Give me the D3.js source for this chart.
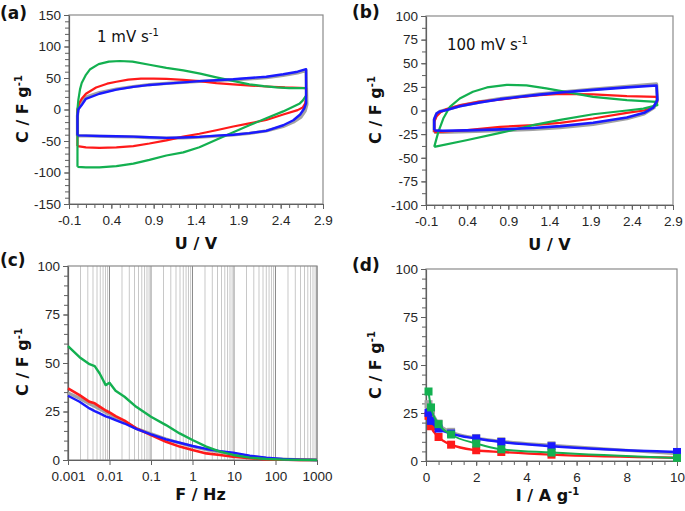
<!DOCTYPE html>
<html><head><meta charset="utf-8">
<script src="https://cdn.jsdelivr.net/npm/d3@7"></script>
<style>
body{margin:0;background:#fff;}
svg{display:block;font-family:"DejaVu Sans",Verdana,sans-serif;}
</style></head>
<body>
<svg id="chart" width="685" height="511"></svg>
<script>
// ---------- DATA ----------
// Panel (a): CV at 1 mV s-1, [U (V), C (F g-1)]
const cvSlowGray = [[0,-42],[0,-10],[0.01,2],[0.05,12],[0.1,20],[0.26,27],[0.46,32.5],[0.66,36.5],[0.85,39.5],[1.05,41.5],[1.25,43],[1.44,44.5],[1.64,46],[1.84,47],[2.03,48.5],[2.23,50.5],[2.43,54],[2.6,58],[2.7,62],[2.71,8],[2.69,-2],[2.64,-12],[2.55,-20],[2.43,-27],[2.23,-34],[2.03,-38],[1.84,-40.5],[1.64,-42.5],[1.44,-44],[1.25,-45],[1.05,-45.5],[0.85,-44.5],[0.66,-43.5],[0.46,-43],[0.26,-42.5],[0.1,-42],[0,-42]];
const cvSlowRed = [[0,-58],[0,0],[0.02,10],[0.05,17],[0.1,25],[0.22,35],[0.35,41],[0.46,44],[0.6,47.5],[0.75,49],[0.9,49],[1.05,48.5],[1.25,47],[1.44,45],[1.64,42],[1.84,40],[2.05,38],[2.23,36.5],[2.45,35],[2.62,34.5],[2.7,34],[2.7,20],[2.69,10],[2.66,3],[2.6,-1],[2.43,-8],[2.23,-16.7],[2.03,-22],[1.84,-27],[1.64,-33],[1.44,-38.5],[1.25,-43],[1.05,-49],[0.85,-54],[0.66,-58],[0.46,-60],[0.26,-61],[0.1,-60],[0,-58]];
const cvSlowBlue = [[0,-41],[0,-10],[0.01,0],[0.05,7],[0.1,17],[0.26,25],[0.46,31.5],[0.66,36],[0.85,39],[1.05,41],[1.25,43],[1.44,45],[1.64,46.5],[1.84,48],[2.03,50],[2.23,52],[2.43,56],[2.6,60],[2.7,64],[2.7,10],[2.68,2],[2.63,-8],[2.55,-17],[2.43,-25],[2.23,-34],[2.03,-37.5],[1.84,-40],[1.64,-41.5],[1.44,-43.5],[1.25,-44.5],[1.05,-45],[0.85,-44],[0.66,-43],[0.46,-42.5],[0.26,-42],[0.1,-41.5],[0,-41]];
const cvSlowGreen = [[0,-91],[0,0],[0.01,15],[0.03,32],[0.05,42],[0.1,55],[0.15,64],[0.25,72],[0.37,76],[0.5,77],[0.65,76],[0.85,71],[1.05,66],[1.25,62],[1.45,57],[1.64,51],[1.85,45],[2.03,40],[2.2,37],[2.35,35],[2.5,34],[2.7,34],[2.7,22],[2.66,14],[2.62,9],[2.43,-3],[2.23,-14],[2.03,-25],[1.84,-36],[1.64,-48],[1.44,-60],[1.25,-68],[1.05,-73],[0.85,-80],[0.66,-86],[0.46,-90],[0.26,-92],[0.1,-92],[0,-91]];

// Panel (b): CV at 100 mV s-1
const cvFastGray = [[0,-23],[0,-10],[0.03,-3.5],[0.07,-1],[0.15,1],[0.31,5],[0.55,9],[0.8,12.5],[1.04,15],[1.28,17.5],[1.53,19.5],[1.93,22.5],[2.34,25.5],[2.7,28],[2.71,12],[2.67,3],[2.55,-3.5],[2.34,-8.5],[1.93,-14.5],[1.53,-18],[1.2,-19.8],[0.8,-21.3],[0.4,-22.3],[0.1,-23],[0,-23]];
const cvFastRed = [[0,-23],[0,-12],[0.03,-6],[0.08,-1.5],[0.15,1.5],[0.31,5.5],[0.55,9.5],[0.8,11.6],[1.04,14],[1.28,16.3],[1.53,17.5],[1.93,17],[2.34,15.2],[2.7,14.5],[2.71,9],[2.66,3.5],[2.55,0],[2.34,-2.5],[1.93,-8.5],[1.53,-13],[1.2,-15.5],[0.8,-17.3],[0.4,-20.8],[0.1,-22.5],[0,-23]];
const cvFastBlue = [[0,-21],[0,-9],[0.03,-3],[0.07,-1],[0.15,0.5],[0.31,4.6],[0.55,8.5],[0.8,12],[1.04,14.5],[1.28,16.8],[1.53,19],[1.93,21.8],[2.34,24.5],[2.7,26.5],[2.71,11],[2.66,3],[2.55,-2.5],[2.34,-7.4],[1.93,-13],[1.53,-16.5],[1.2,-18.5],[0.8,-20],[0.4,-21],[0.1,-21.5],[0,-21]];
const cvFastGreen = [[0,-38.5],[0.05,-22.6],[0.11,-8.5],[0.19,3.9],[0.31,12.7],[0.47,19.8],[0.64,24.4],[0.88,27.2],[1.12,26.5],[1.36,23.4],[1.53,20.8],[1.93,14.5],[2.34,11],[2.7,9.2],[2.71,5.7],[2.54,2],[2.34,0],[1.93,-4],[1.53,-10],[1.2,-15.5],[0.8,-23.7],[0.39,-31.5],[0,-38.5]];

// Panel (c): capacitance vs frequency
const freqHz = [0.001,0.0019,0.0033,0.0044,0.0058,0.0081,0.01,0.014,0.023,0.044,0.1,0.23,0.49,1,2.15,4.6,9.5,24,60,150,400,1000];
const eisGray  = [34.6,31.8,29,27.6,26.3,24.5,23.5,21.8,19.6,16.3,13.5,10.8,8.8,7,5.3,4.2,3.2,1.8,0.9,0.4,0.1,0];
const eisRed   = [36.9,33.4,30,29.2,27.5,25.5,24.5,22.6,20.3,16.3,12.9,9.4,6.9,5.1,3.4,2.6,1.7,0.9,0.3,0.2,0.05,0];
const eisBlue  = [33.1,30,26.6,25.2,24,22.5,21.8,20.5,18.8,16,13.2,10.6,8.9,7.2,5.7,4.6,3.8,2.2,1.2,0.5,0.2,0];
const eisGreen = [58.7,53,49.4,48.4,44.6,38.6,39.8,35.7,32.6,27.4,22.3,18,13.7,10.3,6.9,4.3,2.6,1.2,0.5,0.2,0.05,0];

// Panel (d): rate capability
const currentDensity = [0.1,0.2,0.5,1,2,3,5,10];
const rateGray  = [29.6,26.5,19.5,15.2,12,10.3,8.2,3.8];
const rateRed   = [23.5,18.1,12.5,8.5,5.6,4.7,3.3,1.7];
const rateBlue  = [25.1,20.9,16.9,14.3,11.7,9.9,7.7,4.7];
const rateGreen = [36.2,27.9,19.2,13.8,9.1,6.1,4.4,1.6];

// Ticks
const cvUTicks = [-0.1,0.4,0.9,1.4,1.9,2.4,2.9];
const cvSlowCTicks = [-150,-100,-50,0,50,100,150];
const cvFastCTicks = [-100,-75,-50,-25,0,25,50,75,100];
const capTicks = [0,25,50,75,100];
const freqTicks = [0.001,0.01,0.1,1,10,100,1000];
const freqTickLabels = ["0.001","0.01","0.1","1","10","100","1000"];
const currentTicks = [0,2,4,6,8,10];

// ---------- STYLE ----------
const colors = {gray:"#a3a3a3", red:"#ff1a1a", blue:"#1a1aff", green:"#13b050"};
const svg = d3.select("#chart");
const tickFont = "13.5px";
const textCol = "#262626";

function frame(g, x0, y0, x1, y1){
  g.append("rect").attr("x",x0).attr("y",y0).attr("width",x1-x0).attr("height",y1-y0)
    .attr("fill","none").attr("stroke","#8a8a8a").attr("stroke-width",1.2);
}
function styleAxis(sel){
  sel.selectAll("path.domain").attr("stroke","#606060").attr("stroke-width",1.2);
  sel.selectAll("line").attr("stroke","#606060");
  sel.selectAll("text").attr("fill",textCol).style("font-size",tickFont);
}
function supText(g, x, y, base, sup, opts){
  const t = g.append("text").attr("x",x).attr("y",y).attr("fill",opts.fill||"#000")
    .attr("text-anchor",opts.anchor||"start")
    .style("font-size",opts.size).style("font-weight",opts.weight||"normal");
  if(opts.rotate) t.attr("transform",`rotate(-90,${x},${y})`);
  t.append("tspan").text(base);
  if(sup){
    t.append("tspan").attr("dy",opts.supDy).style("font-size",opts.supSize).text(sup);
  }
  return t;
}
function panelLabel(x,y,txt){
  svg.append("text").attr("x",x).attr("y",y).text(txt)
    .style("font-size","17px").style("font-weight","bold").attr("fill","#111");
}
function yTitle(x, cy){
  supText(svg, x, cy, "C / F g", "-1", {anchor:"middle", size:"16px", weight:"bold", rotate:true, supDy:-6, supSize:"10px", fill:"#111"});
}

// ---------- CV PANEL ----------
function cvPanel(box, yDomain, yTicks, yMinorStep, series, rateLabel, labelPos){
  const x = d3.scaleLinear().domain([-0.1,2.9]).range([box.l, box.r]);
  const y = d3.scaleLinear().domain(yDomain).range([box.b, box.t]);
  const g = svg.append("g");
  frame(g, box.l, box.t, box.r, box.b);
  const xMinor = d3.range(-0.1, 2.9001, 0.1);
  g.append("g").attr("transform",`translate(0,${box.b})`)
    .call(d3.axisBottom(x).tickValues(xMinor).tickSize(4).tickFormat(""))
    .call(s=>{s.select(".domain").remove(); s.selectAll("line").attr("stroke","#606060");});
  const yMinor = d3.range(yDomain[0], yDomain[1]+0.001, yMinorStep);
  g.append("g").attr("transform",`translate(${box.l},0)`)
    .call(d3.axisLeft(y).tickValues(yMinor).tickSize(4).tickFormat(""))
    .call(s=>{s.select(".domain").remove(); s.selectAll("line").attr("stroke","#606060");});
  g.append("g").attr("transform",`translate(0,${box.b})`)
    .call(d3.axisBottom(x).tickValues(cvUTicks).tickSize(5).tickSizeOuter(0).tickPadding(6).tickFormat(d=>d.toFixed(1)))
    .call(styleAxis);
  g.append("g").attr("transform",`translate(${box.l},0)`)
    .call(d3.axisLeft(y).tickValues(yTicks).tickSize(5).tickSizeOuter(0).tickPadding(3).tickFormat(d=>String(d)))
    .call(styleAxis);
  const line = d3.line().x(d=>x(d[0])).y(d=>y(d[1]));
  series.forEach(s=>{
    g.append("path").datum(s.data).attr("d",line).attr("fill","none")
      .attr("stroke",s.color).attr("stroke-width",s.w).attr("stroke-linejoin","round");
  });
  supText(g, labelPos[0], labelPos[1], rateLabel, "-1", {size:"15px", supDy:-6, supSize:"10px", fill:"#111"});
  g.append("text").attr("x",(box.l+box.r)/2).attr("y",box.b+45).attr("text-anchor","middle")
    .style("font-size","16px").style("font-weight","bold").attr("fill","#111").text("U / V");
}

cvPanel({l:69,t:15,r:323,b:204}, [-150,150], cvSlowCTicks, 10,
  [{data:cvSlowGray,color:colors.gray,w:3.2},{data:cvSlowRed,color:colors.red,w:2.2},
   {data:cvSlowGreen,color:colors.green,w:2.2},{data:cvSlowBlue,color:colors.blue,w:2.4}],
  "1 mV s", [97,42]);
cvPanel({l:426,t:16,r:673,b:205}, [-100,100], cvFastCTicks, 12.5,
  [{data:cvFastGray,color:colors.gray,w:3.4},{data:cvFastRed,color:colors.red,w:2.2},
   {data:cvFastGreen,color:colors.green,w:2.2},{data:cvFastBlue,color:colors.blue,w:2.6}],
  "100 mV s", [447,50]);

// ---------- PANEL (c) ----------
(function(){
  const box = {l:68,t:266,r:317,b:460};
  const x = d3.scaleLog().domain([0.001,1000]).range([box.l,box.r]);
  const y = d3.scaleLinear().domain([0,100]).range([box.b,box.t]);
  const g = svg.append("g");
  const minorGrid = [];
  for(let k=-3;k<3;k++){ for(let m=2;m<=9;m++) minorGrid.push(m*Math.pow(10,k)); }
  g.selectAll("line.mg").data(minorGrid).join("line")
    .attr("x1",d=>x(d)).attr("x2",d=>x(d)).attr("y1",box.t).attr("y2",box.b)
    .attr("stroke","#c8c8c8").attr("stroke-width",1);
  g.selectAll("line.Mg").data(freqTicks).join("line")
    .attr("x1",d=>x(d)).attr("x2",d=>x(d)).attr("y1",box.t).attr("y2",box.b)
    .attr("stroke","#8c8c8c").attr("stroke-width",1);
  frame(g, box.l, box.t, box.r, box.b);
  const yMinor = d3.range(0,100.001,5);
  g.append("g").attr("transform",`translate(${box.l},0)`)
    .call(d3.axisLeft(y).tickValues(yMinor).tickSize(4).tickFormat(""))
    .call(s=>{s.select(".domain").remove(); s.selectAll("line").attr("stroke","#606060");});
  g.append("g").attr("transform",`translate(0,${box.b})`)
    .call(d3.axisBottom(x).tickValues(freqTicks).tickSize(5).tickSizeOuter(0).tickPadding(6).tickFormat((d,i)=>freqTickLabels[i]))
    .call(styleAxis);
  g.append("g").attr("transform",`translate(${box.l},0)`)
    .call(d3.axisLeft(y).tickValues(capTicks).tickSize(5).tickSizeOuter(0).tickPadding(3))
    .call(styleAxis);
  const line = d3.line().x(d=>x(d[0])).y(d=>y(d[1]));
  const ser = [{v:eisGray,c:colors.gray,w:3.2},{v:eisRed,c:colors.red,w:2.6},{v:eisBlue,c:colors.blue,w:2.4},{v:eisGreen,c:colors.green,w:2.4}];
  ser.forEach(s=>{
    g.append("path").datum(freqHz.map((f,i)=>[f,s.v[i]])).attr("d",line)
      .attr("fill","none").attr("stroke",s.c).attr("stroke-width",s.w).attr("stroke-linejoin","round");
  });
  g.append("text").attr("x",(box.l+box.r)/2+8).attr("y",box.b+40).attr("text-anchor","middle")
    .style("font-size","16px").style("font-weight","bold").attr("fill","#111").text("F / Hz");
})();

// ---------- PANEL (d) ----------
(function(){
  const box = {l:426,t:269,r:677,b:461};
  const x = d3.scaleLinear().domain([0,10]).range([box.l,box.r]);
  const y = d3.scaleLinear().domain([0,100]).range([box.b,box.t]);
  const g = svg.append("g");
  frame(g, box.l, box.t, box.r, box.b);
  g.append("g").attr("transform",`translate(0,${box.b})`)
    .call(d3.axisBottom(x).tickValues(d3.range(0,10.001,0.5)).tickSize(4).tickFormat(""))
    .call(s=>{s.select(".domain").remove(); s.selectAll("line").attr("stroke","#606060");});
  g.append("g").attr("transform",`translate(${box.l},0)`)
    .call(d3.axisLeft(y).tickValues(d3.range(0,100.001,5)).tickSize(4).tickFormat(""))
    .call(s=>{s.select(".domain").remove(); s.selectAll("line").attr("stroke","#606060");});
  g.append("g").attr("transform",`translate(0,${box.b})`)
    .call(d3.axisBottom(x).tickValues(currentTicks).tickSize(5).tickSizeOuter(0).tickPadding(6))
    .call(styleAxis);
  g.append("g").attr("transform",`translate(${box.l},0)`)
    .call(d3.axisLeft(y).tickValues(capTicks).tickSize(5).tickSizeOuter(0).tickPadding(3))
    .call(styleAxis);
  const line = d3.line().x(d=>x(d[0])).y(d=>y(d[1])).curve(d3.curveMonotoneX);
  const ser = [{v:rateGray,c:colors.gray,w:3},{v:rateRed,c:colors.red,w:2.4},{v:rateBlue,c:colors.blue,w:2.4},{v:rateGreen,c:colors.green,w:2}];
  ser.forEach(s=>{
    const pts = currentDensity.map((c,i)=>[c,s.v[i]]);
    g.append("path").datum(pts).attr("d",line).attr("fill","none").attr("stroke",s.c).attr("stroke-width",s.w);
    g.selectAll(null).data(pts).join("rect")
      .attr("x",d=>x(d[0])-4).attr("y",d=>y(d[1])-4).attr("width",8).attr("height",8)
      .attr("fill",s.c);
  });
  supText(g, (box.l+box.r)/2-4, box.b+40, "I / A g", "-1", {anchor:"middle", size:"16px", weight:"bold", supDy:-6, supSize:"10px", fill:"#111"});
})();

// ---------- LABELS ----------
panelLabel(0,19,"(a)");
panelLabel(352,18,"(b)");
panelLabel(0,266,"(c)");
panelLabel(352,271,"(d)");
yTitle(28,109);
yTitle(381,110);
yTitle(28,362);
yTitle(381,365);
</script>
</body></html>
